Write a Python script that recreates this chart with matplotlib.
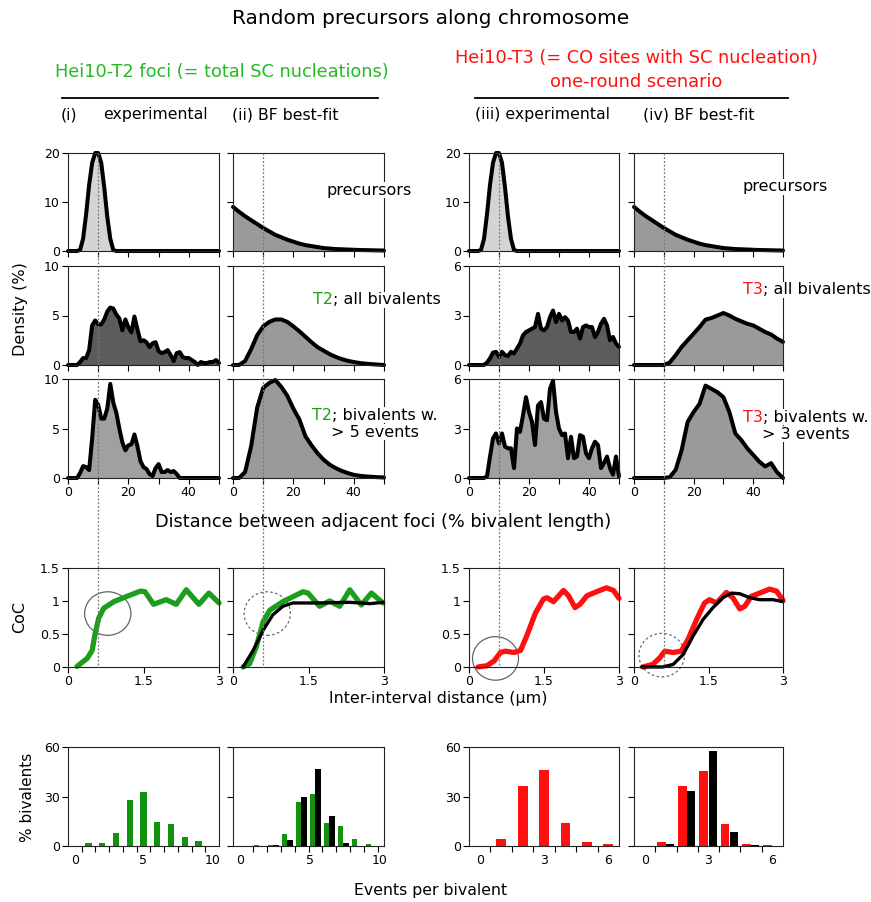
import numpy as np
import matplotlib
matplotlib.use('Agg')
import matplotlib.pyplot as plt
from matplotlib.patches import Ellipse
from matplotlib.lines import Line2D
from matplotlib.text import Annotation

# ---------------- data ----------------
x_exp = list(range(0, 51))
x_bf = list(range(0, 51, 2))

prec_exp = [0, 0, 0, 0, 0.2, 2.5, 7.5, 13.5, 18, 20, 20, 18, 13, 7, 2.5, 0.2,
            0, 0, 0, 0, 0, 0, 0, 0, 0, 0, 0, 0, 0, 0, 0, 0, 0, 0, 0, 0, 0, 0,
            0, 0, 0, 0, 0, 0, 0, 0, 0, 0, 0, 0, 0]
prec_bf = [9.0, 8.0, 7.1, 6.3, 5.5, 4.7, 4.0, 3.3, 2.8, 2.3, 1.9, 1.5, 1.2, 1.0,
           0.8, 0.6, 0.5, 0.4, 0.35, 0.3, 0.25, 0.2, 0.18, 0.15, 0.12, 0.1]

t2_all_exp = [0, 0, 0, 0, 0.3, 0.7, 0.7, 1.5, 4.0, 4.5, 4.1, 4.1, 4.6, 5.4, 5.8,
              5.7, 5.1, 4.7, 3.5, 4.6, 3.8, 3.3, 4.9, 3.6, 2.4, 2.5, 2.3, 1.8,
              2.2, 2.3, 1.4, 1.2, 1.3, 1.5, 1.0, 0.4, 1.2, 1.3, 0.8, 0.7, 0.7,
              0.5, 0.3, 0, 0.3, 0.2, 0.2, 0.3, 0.3, 0.5, 0.2]
t2_5_exp = [0, 0, 0, 0, 0.5, 1.2, 1.1, 0.8, 4.0, 7.9, 7.4, 6.0, 6.0, 7.0, 9.5,
            7.6, 6.6, 5.0, 3.6, 2.8, 3.3, 3.4, 4.4, 3.2, 1.7, 1.1, 0.9, 0.4,
            0.2, 1.0, 1.4, 0.6, 0.6, 0.8, 0.6, 0.7, 0.4, 0, 0, 0, 0, 0, 0, 0,
            0, 0, 0, 0, 0, 0, 0]
t2_all_bf = [0, 0, 0.4, 1.6, 3.0, 3.9, 4.35, 4.6, 4.6, 4.35, 3.9, 3.4, 2.85,
             2.3, 1.8, 1.45, 1.1, 0.82, 0.6, 0.42, 0.3, 0.2, 0.13, 0.08, 0.04, 0]
t2_5_bf = [0, 0, 0.6, 3.2, 7.1, 9.1, 9.6, 9.9, 9.2, 8.3, 7.0, 5.9, 4.2, 3.3,
           2.5, 1.85, 1.35, 1.0, 0.72, 0.5, 0.32, 0.22, 0.16, 0.12, 0.08, 0.05]

t3_all_exp = [0, 0, 0, 0, 0, 0, 0.15, 0.4, 0.75, 0.8, 0.5, 0.8, 0.6, 0.55, 0.8,
              0.7, 1.0, 1.3, 1.8, 2.0, 2.1, 2.2, 2.3, 3.1, 2.2, 2.1, 2.3, 2.9,
              3.3, 2.6, 3.1, 2.7, 2.9, 2.7, 2.0, 2.0, 2.2, 1.6, 2.3, 2.4, 2.3,
              2.3, 1.7, 2.0, 2.5, 2.8, 2.4, 1.5, 1.7, 1.3, 1.1]
t3_3_exp = [0, 0, 0, 0, 0, 0, 0.1, 1.3, 2.4, 2.7, 2.1, 2.7, 1.9, 1.8, 1.8, 0.6,
            3.0, 2.8, 3.8, 4.9, 4.0, 3.4, 2.0, 4.4, 4.6, 3.6, 3.5, 5.4, 5.9,
            4.0, 3.0, 2.6, 2.7, 1.2, 2.5, 1.2, 1.3, 2.6, 2.5, 1.5, 1.2, 1.8,
            2.2, 2.0, 0.6, 0.9, 1.3, 0.6, 0.2, 1.3, 0.1]
t3_all_bf = [0, 0, 0, 0, 0, 0, 0.15, 0.6, 1.1, 1.5, 1.9, 2.3, 2.75, 2.85, 3.0,
             3.15, 3.0, 2.8, 2.65, 2.5, 2.4, 2.2, 2.0, 1.85, 1.6, 1.4]
t3_3_bf = [0, 0, 0, 0, 0, 0, 0.05, 0.5, 1.7, 3.4, 4.0, 4.5, 5.6, 5.4, 5.2, 4.9,
           4.0, 2.7, 2.3, 1.8, 1.4, 1.0, 0.7, 0.9, 0.35, 0]

# CoC curves (inter-interval distance in um, CoC)
coc1_x = [0.18, 0.38, 0.48, 0.54, 0.61, 0.71, 0.91, 1.17, 1.44, 1.53, 1.70, 1.95,
          2.15, 2.35, 2.60, 2.80, 3.00]
coc1_y = [0.01, 0.13, 0.25, 0.51, 0.74, 0.89, 0.99, 1.07, 1.15, 1.14, 0.95, 1.02,
          0.95, 1.17, 0.95, 1.12, 0.97]
coc2_x = [0.20, 0.33, 0.46, 0.60, 0.73, 0.99, 1.39, 1.49, 1.72, 1.92, 2.12, 2.32,
          2.55, 2.75, 2.98]
coc2_y = [0.00, 0.05, 0.30, 0.69, 0.86, 0.99, 1.14, 1.12, 0.92, 1.00, 0.92, 1.17,
          0.94, 1.12, 0.97]
coc2_fit_x = [0.20, 0.40, 0.60, 0.79, 0.99, 1.19, 1.66, 2.32, 2.72, 2.98]
coc2_fit_y = [0.00, 0.25, 0.56, 0.79, 0.92, 0.97, 0.97, 0.98, 0.96, 0.98]
coc3_x = [0.18, 0.36, 0.50, 0.63, 0.73, 0.90, 1.03, 1.16, 1.33, 1.49, 1.56, 1.69,
          1.89, 1.99, 2.12, 2.22, 2.36, 2.55, 2.75, 2.89, 3.00]
coc3_y = [0.00, 0.02, 0.09, 0.22, 0.24, 0.22, 0.25, 0.48, 0.82, 1.03, 1.05, 0.99,
          1.16, 1.08, 0.90, 0.95, 1.08, 1.14, 1.20, 1.16, 1.04]
coc4_x = [0.18, 0.38, 0.52, 0.62, 0.79, 0.95, 1.09, 1.26, 1.42, 1.52, 1.66, 1.86,
          1.99, 2.13, 2.23, 2.36, 2.53, 2.73, 2.87, 3.00]
coc4_y = [0.00, 0.04, 0.14, 0.24, 0.22, 0.24, 0.42, 0.72, 0.97, 1.02, 0.97, 1.13,
          1.05, 0.88, 0.92, 1.07, 1.12, 1.18, 1.15, 1.01]
coc4_fit_x = [0.15, 0.58, 0.79, 0.99, 1.19, 1.39, 1.59, 1.79, 1.96, 2.13, 2.33,
              2.53, 2.80, 3.00]
coc4_fit_y = [0.00, 0.00, 0.04, 0.19, 0.47, 0.72, 0.90, 1.05, 1.12, 1.11, 1.05,
              1.02, 1.02, 0.99]

# events-per-bivalent histograms
ev10 = np.arange(0, 11)
bar1_green = [0, 1.8, 1.8, 7.9, 27.8, 32.7, 14.6, 13.2, 5.3, 2.8, 0]
bar2_green = [0, 0.5, 0.5, 7.2, 26.8, 31.8, 13.7, 12.4, 4.4, 1.3, 0]
bar2_black = [0, 0, 0.4, 3.4, 29.4, 46.6, 18.3, 2.0, 0, 0, 0]
ev6 = np.arange(0, 7)
bar3_red = [0, 4.0, 36.5, 45.8, 14.0, 2.6, 1.4]
bar4_red = [0, 2.6, 36.5, 45.6, 13.2, 1.2, 0.8]
bar4_black = [0, 1.2, 33.4, 57.6, 8.5, 0.6, 0]

# ---------------- layout ----------------
W, H = 871, 902
fig = plt.figure(figsize=(W / 100, H / 100), dpi=100)
plt.rcParams['font.family'] = ['DejaVu Sans']

def rect(x0, x1, y0, y1):
    return [x0 / W, 1 - y1 / H, (x1 - x0) / W, (y1 - y0) / H]

def fx(x):
    return x / W

def fy(y):
    return 1 - y / H

cols = [(68, 219), (233, 384), (469, 619), (634, 783)]
rows = [(153, 251), (266, 365), (379, 478)]
coc_row = (568, 667)
bar_row = (747, 846)

GREEN = '#1d9d1d'
BARGREEN = '#109410'
RED = '#ff1010'
TXTGREEN = '#22bb22'

def style(ax):
    for s in ax.spines.values():
        s.set_linewidth(0.8)
        s.set_color('#222222')
    ax.tick_params(direction='out', length=4, width=0.8, labelsize=9, pad=2)

dens = [
    [(x_exp, prec_exp, '#d4d4d4'), (x_exp, t2_all_exp, '#5c5c5c'), (x_exp, t2_5_exp, '#a0a0a0')],
    [(x_bf, prec_bf, '#9a9a9a'), (x_bf, t2_all_bf, '#9a9a9a'), (x_bf, t2_5_bf, '#9a9a9a')],
    [(x_exp, prec_exp, '#d4d4d4'), (x_exp, t3_all_exp, '#5c5c5c'), (x_exp, t3_3_exp, '#a0a0a0')],
    [(x_bf, prec_bf, '#9a9a9a'), (x_bf, t3_all_bf, '#9a9a9a'), (x_bf, t3_3_bf, '#9a9a9a')],
]
ylims = [[20, 10, 10], [20, 10, 10], [20, 6, 6], [20, 6, 6]]
yticks = {20: [0, 10, 20], 10: [0, 5, 10], 6: [0, 3, 6]}

for ci, (cx0, cx1) in enumerate(cols):
    for ri, (ry0, ry1) in enumerate(rows):
        ax = fig.add_axes(rect(cx0, cx1, ry0, ry1))
        xs, ys, fc = dens[ci][ri]
        ax.fill_between(xs, ys, 0, color=fc, lw=0)
        ax.plot(xs, ys, color='black', lw=2.9, clip_on=False,
                solid_joinstyle='round', solid_capstyle='round')
        ax.set_xlim(0, 50)
        ym = ylims[ci][ri]
        ax.set_ylim(0, ym)
        ax.set_yticks(yticks[ym])
        ax.set_xticks([0, 10, 20, 30, 40, 50])
        style(ax)
        if ri == 2:
            ax.set_xticklabels(['0', '', '20', '', '40', ''])
        else:
            ax.set_xticklabels([])
        if ci in (1, 3):
            ax.set_yticklabels([])

# CoC row
coc_data = [
    [(coc1_x, coc1_y, GREEN, 3.8)],
    [(coc2_x, coc2_y, GREEN, 3.8), (coc2_fit_x, coc2_fit_y, 'black', 2.4)],
    [(coc3_x, coc3_y, RED, 3.8)],
    [(coc4_x, coc4_y, RED, 3.8), (coc4_fit_x, coc4_fit_y, 'black', 2.4)],
]
circles = [((0.79, 0.81), '-'), ((0.68, 0.81), (0, (2, 2))),
           ((0.53, 0.13), '-'), ((0.56, 0.18), (0, (2, 2)))]
for ci, (cx0, cx1) in enumerate(cols):
    ax = fig.add_axes(rect(cx0, cx1, coc_row[0], coc_row[1]))
    for xs, ys, c, lw in coc_data[ci]:
        ax.plot(xs, ys, color=c, lw=lw, solid_capstyle='round',
                solid_joinstyle='round', clip_on=False)
    ax.set_xlim(0, 3)
    ax.set_ylim(0, 1.5)
    ax.set_xticks([0, 1.5, 3])
    ax.set_xticklabels(['0', '1.5', '3'])
    ax.set_yticks([0, 0.5, 1, 1.5])
    ax.set_yticklabels(['0', '0.5', '1', '1.5'])
    style(ax)
    if ci in (1, 3):
        ax.set_yticklabels([])
    (cxy, ls) = circles[ci]
    e = Ellipse(cxy, 0.92, 0.66, fill=False, ec='#666666', lw=0.9, ls=ls, clip_on=False)
    ax.add_patch(e)

# bars row
for ci, (cx0, cx1) in enumerate(cols):
    ax = fig.add_axes(rect(cx0, cx1, bar_row[0], bar_row[1]))
    if ci == 0:
        ax.bar(ev10, bar1_green, width=0.46, color=BARGREEN)
        ax.set_xlim(-0.5, 10.5)
        ax.set_xticks([0, 5, 10])
        ax.set_xticks(np.arange(0.5, 10, 1), minor=True)
    elif ci == 1:
        ax.bar(ev10 + 0.2, bar2_green, width=0.38, color=BARGREEN)
        ax.bar(ev10 + 0.58, bar2_black, width=0.38, color='black')
        ax.set_xlim(-0.5, 10.3)
        ax.set_xticks([0, 5, 10])
        ax.set_xticks(np.arange(0.9, 10, 1), minor=True)
    elif ci == 2:
        ax.bar(ev6, bar3_red, width=0.46, color=RED)
        ax.set_xlim(-0.5, 6.5)
        ax.set_xticks([0, 3, 6])
        ax.set_xticks(np.arange(0.5, 6, 1), minor=True)
    else:
        ax.bar(ev6 - 0.22, bar4_red, width=0.41, color=RED)
        ax.bar(ev6 + 0.19, bar4_black, width=0.38, color='black')
        ax.set_xlim(-0.5, 6.5)
        ax.set_xticks([0, 3, 6])
        ax.set_xticks(np.arange(0.5, 6, 1), minor=True)
    ax.set_ylim(0, 60)
    ax.set_yticks([0, 30, 60])
    style(ax)
    ax.tick_params(axis='x', which='major', length=0, pad=6)
    ax.tick_params(axis='x', which='minor', direction='out', length=4, width=0.8)
    if ci in (1, 3):
        ax.set_yticklabels([])

# dotted guide lines across rows
for ci, (cx0, cx1) in enumerate(cols):
    xpix = cx0 + (cx1 - cx0) * 10 / 50
    fig.add_artist(Line2D([fx(xpix), fx(xpix)], [fy(153), fy(667)], color='#777777',
                          lw=0.9, ls=(0, (1.5, 1.5)), zorder=10))

# ---------------- texts ----------------
fig.text(fx(431), fy(19), 'Random precursors along chromosome', ha='center', va='center',
         fontsize=14.5)
fig.text(fx(222), fy(72), 'Hei10-T2 foci (= total SC nucleations)', ha='center',
         va='center', fontsize=12.8, color=TXTGREEN)
fig.text(fx(636), fy(58), 'Hei10-T3 (= CO sites with SC nucleation)', ha='center',
         va='center', fontsize=12.8, color=RED)
fig.text(fx(636), fy(82), 'one-round scenario', ha='center', va='center',
         fontsize=12.8, color=RED)
fig.add_artist(Line2D([fx(62), fx(378)], [fy(97.5), fy(97.5)], color='black', lw=1.3))
fig.add_artist(Line2D([fx(475), fx(788)], [fy(97.5), fy(97.5)], color='black', lw=1.3))
for xl, s in [(61, '(i)'), (103, 'experimental'), (232, '(ii) BF best-fit'),
              (475, '(iii) experimental'), (643, '(iv) BF best-fit')]:
    fig.text(fx(xl), fy(115), s, ha='left', va='center', fontsize=11.3)

WB = dict(fc='white', ec='none', pad=0.6)

def multi(x, y, parts, size=11.5):
    t = fig.text(fx(x), fy(y), parts[0][0], color=parts[0][1], fontsize=size,
                 ha='left', va='center', bbox=WB, zorder=20)
    for s, c in parts[1:]:
        a = Annotation(s, xy=(1, 0), xycoords=t, xytext=(0, 0),
                       textcoords='offset points', ha='left', va='bottom',
                       color=c, fontsize=size, bbox=WB, zorder=20)
        fig.add_artist(a)
        t = a
    return t

fig.text(fx(327), fy(190), 'precursors', ha='left', va='center', fontsize=11.5,
         bbox=WB, zorder=20)
fig.text(fx(742), fy(187), 'precursors', ha='left', va='center', fontsize=11.5,
         bbox=WB, zorder=20)
multi(313, 300, [('T2', GREEN), ('; all bivalents', 'black')])
multi(743, 290, [('T3', RED), ('; all bivalents', 'black')])
multi(312, 415, [('T2', GREEN), ('; bivalents w.', 'black')])
fig.text(fx(375), fy(432), '> 5 events', ha='center', va='center', fontsize=11.5,
         bbox=WB, zorder=20)
multi(743, 417, [('T3', RED), ('; bivalents w.', 'black')])
fig.text(fx(806), fy(434), '> 3 events', ha='center', va='center', fontsize=11.5,
         bbox=WB, zorder=20)

fig.text(fx(21), fy(309), 'Density (%)', rotation=90, ha='center', va='center',
         fontsize=11.5)
fig.text(fx(383), fy(522), 'Distance between adjacent foci (% bivalent length)',
         ha='center', va='center', fontsize=12.8)
fig.text(fx(20), fy(617), 'CoC', rotation=90, ha='center', va='center', fontsize=11.5)
fig.text(fx(438), fy(698), 'Inter-interval distance (\u03bcm)', ha='center',
         va='center', fontsize=11.4)
fig.text(fx(28), fy(797), '% bivalents', rotation=90, ha='center', va='center',
         fontsize=11)
fig.text(fx(431), fy(891), 'Events per bivalent', ha='center', va='center',
         fontsize=11.3)

fig.savefig('out.png', dpi=100)
